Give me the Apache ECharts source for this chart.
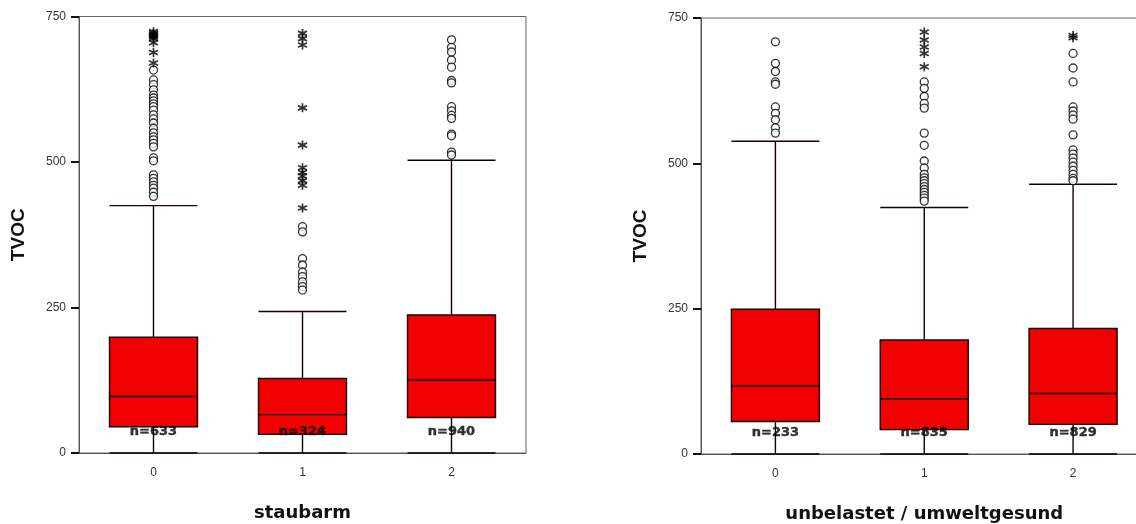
<!DOCTYPE html>
<html>
<head>
<meta charset="utf-8">
<script src="https://cdn.jsdelivr.net/npm/echarts@6/dist/echarts.min.js"></script>
<style>
  html, body { margin: 0; padding: 0; background: #fff; }
  #chart { width: 1136px; height: 524px; }
</style>
</head>
<body>
<div id="chart"></div>
<script>
// Categories shared by both panels
const categories = ['0', '1', '2'];
const yTicks = [0, 250, 500, 750];

// Panel 1: staubarm — box stats [lower whisker, Q1, median, Q3, upper whisker]
const staubarmBoxes = [
  [0, 45, 97, 199, 425],
  [0, 32, 66, 128, 243],
  [0, 61, 125, 237, 503]
];
// outliers (circles) and extreme values (stars) per category
const staubarmCircles = [
  [658, 641, 633, 624, 615, 610, 605, 600, 595, 589, 581, 574, 567, 558, 550, 543, 538, 532, 526, 507, 502, 478, 472, 466, 460, 455, 448, 441],
  [389, 380, 334, 323, 311, 303, 294, 286, 280],
  [710, 697, 689, 675, 663, 640, 636, 595, 588, 580, 575, 548, 545, 517, 512]
];
const staubarmStars = [
  [724, 721, 718, 715, 712, 705, 688, 670],
  [721, 712, 701, 593, 529, 490, 482, 476, 468, 460, 421],
  []
];
const staubarmN = [633, 324, 940];

// Panel 2: unbelastet / umweltgesund
const umweltBoxes = [
  [0, 56, 117, 249, 538],
  [0, 42, 95, 196, 424],
  [0, 51, 104, 216, 464]
];
const umweltCircles = [
  [709, 672, 658, 640, 636, 597, 586, 575, 561, 552],
  [640, 629, 615, 603, 595, 552, 531, 504, 492, 481, 475, 470, 465, 460, 455, 450, 445, 440, 435],
  [689, 664, 640, 597, 590, 583, 576, 549, 523, 516, 509, 502, 495, 488, 481, 474, 470]
];
const umweltStars = [
  [],
  [726, 712, 700, 689, 666],
  [720, 716]
];
const umweltN = [233, 835, 829];

// height (in data units) at which the group sizes are printed
const nLabelLevel = 37;

const starPath = 'path://M5,0L5,10M0.7,2.5L9.3,7.5M0.7,7.5L9.3,2.5';
const tickFont = 'Liberation Sans, Arial, sans-serif';

function flatten(groups) {
  const out = [];
  groups.forEach((vals, i) => vals.forEach(v => out.push([i, v])));
  return out;
}

function xAxisFor(gridIndex, name) {
  return {
    type: 'category', gridIndex, data: categories, boundaryGap: true,
    axisLine: { lineStyle: { color: '#555', width: 1 } },
    axisTick: { alignWithLabel: true, length: 9, lineStyle: { color: '#111', width: 2 } },
    axisLabel: { margin: 14, fontSize: 12, color: '#333', fontFamily: tickFont },
    name, nameLocation: 'middle', nameGap: 51,
    nameTextStyle: { fontFamily: 'DejaVu Sans', fontWeight: 'bold', fontSize: 18, color: '#111' }
  };
}

function yAxisFor(gridIndex) {
  return {
    type: 'value', gridIndex, min: 0, max: 750, interval: 250,
    splitLine: { show: false },
    axisLine: { show: true, lineStyle: { color: '#555', width: 1 } },
    axisTick: { show: true, length: 8, lineStyle: { color: '#111', width: 2 } },
    axisLabel: { margin: 13, fontSize: 12, color: '#333', fontFamily: tickFont,
      customValues: yTicks },
    name: 'TVOC', nameLocation: 'middle', nameGap: 51,
    nameTextStyle: { fontFamily: 'Liberation Sans, Arial', fontWeight: 'bold', fontSize: 19, color: '#111' }
  };
}

function panelSeries(idx, boxes, circles, stars, counts) {
  return [
    {
      type: 'boxplot', xAxisIndex: idx, yAxisIndex: idx,
      data: boxes, boxWidth: [88, 88], z: 2,
      itemStyle: { color: '#f00000', borderColor: '#150000', borderWidth: 1.4 },
      emphasis: { disabled: true }
    },
    {
      type: 'scatter', xAxisIndex: idx, yAxisIndex: idx,
      data: flatten(circles), symbol: 'circle', symbolSize: 8, z: 3,
      itemStyle: { color: '#fff', borderColor: '#000', borderWidth: 1.3 },
      emphasis: { disabled: true }
    },
    {
      type: 'scatter', xAxisIndex: idx, yAxisIndex: idx,
      data: flatten(stars), symbol: starPath, symbolSize: 9, z: 3,
      itemStyle: { color: 'transparent', borderColor: '#000', borderWidth: 1.7 },
      emphasis: { disabled: true }
    },
    {
      type: 'scatter', xAxisIndex: idx, yAxisIndex: idx,
      data: counts.map((n, i) => ({ value: [i, nLabelLevel], n })),
      symbolSize: 1, z: 4,
      itemStyle: { color: 'transparent' },
      label: {
        show: true, position: 'inside',
        formatter: p => 'n=' + p.data.n,
        fontFamily: 'DejaVu Sans', fontWeight: 'bold', fontSize: 13, color: '#000',
        textBorderColor: '#000', textBorderWidth: 0.4
      },
      emphasis: { disabled: true }
    }
  ];
}

const chart = echarts.init(document.getElementById('chart'), null, { renderer: 'canvas' });
chart.setOption({
  animation: false,
  backgroundColor: '#fff',
  grid: [
    { left: 79, top: 16.5, width: 447, height: 436.5, outerBoundsMode: 'none', containLabel: false,
      show: true, borderColor: '#666', borderWidth: 1, backgroundColor: 'transparent' },
    { left: 701, top: 18, width: 446.5, height: 436, outerBoundsMode: 'none', containLabel: false,
      show: true, borderColor: '#666', borderWidth: 1, backgroundColor: 'transparent' }
  ],
  xAxis: [xAxisFor(0, 'staubarm'), xAxisFor(1, 'unbelastet / umweltgesund')],
  yAxis: [yAxisFor(0), yAxisFor(1)],
  series: [
    ...panelSeries(0, staubarmBoxes, staubarmCircles, staubarmStars, staubarmN),
    ...panelSeries(1, umweltBoxes, umweltCircles, umweltStars, umweltN)
  ]
});
</script>
</body>
</html>
